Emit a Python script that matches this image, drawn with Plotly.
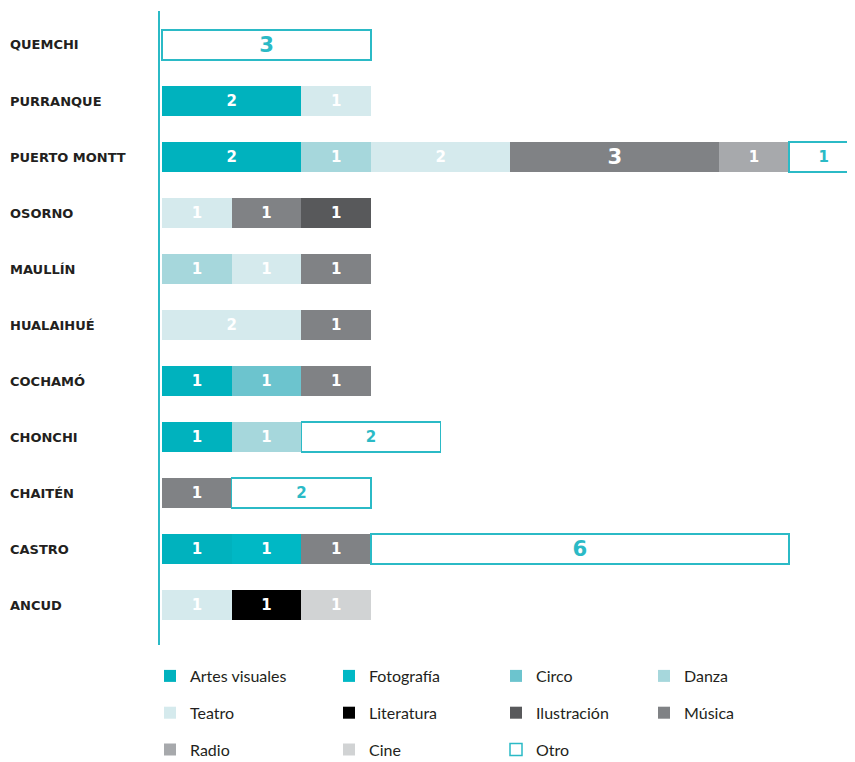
import plotly.graph_objects as go

municipios = ["QUEMCHI", "PURRANQUE", "PUERTO MONTT", "OSORNO", "MAULLÍN",
              "HUALAIHUÉ", "COCHAMÓ", "CHONCHI", "CHAITÉN", "CASTRO", "ANCUD"]

# values per discipline, aligned with municipios (None = no bar)
artes_visuales = [None, 2, 2, None, None, None, 1, 1, None, 1, None]
fotografia     = [None, None, None, None, None, None, None, None, None, 1, None]
circo          = [None, None, None, None, None, None, 1, None, None, None, None]
danza          = [None, None, 1, None, 1, None, None, 1, None, None, None]
teatro         = [None, 1, 2, 1, 1, 2, None, None, None, None, 1]
literatura     = [None, None, None, None, None, None, None, None, None, None, 1]
musica         = [None, None, 3, 1, 1, 1, 1, None, 1, 1, None]
ilustracion    = [None, None, None, 1, None, None, None, None, None, None, None]
radio          = [None, None, 1, None, None, None, None, None, None, None, None]
cine           = [None, None, None, None, None, None, None, None, None, None, 1]
otro           = [3, None, 1, None, None, None, None, 2, 2, 6, None]

TEAL_LINE = "#2BBAC6"

# (name, values, fill colour, text colour, legend column, legend rank)
series = [
    ("Artes visuales", artes_visuales, "#00B2BE", "white", "legend", 1),
    ("Fotografía", fotografia, "#00B8C5", "white", "legend2", 1),
    ("Circo", circo, "#6CC4CE", "white", "legend3", 1),
    ("Danza", danza, "#A6D7DC", "white", "legend4", 1),
    ("Teatro", teatro, "#D5EAED", "white", "legend", 2),
    ("Literatura", literatura, "#000000", "white", "legend2", 2),
    ("Música", musica, "#808285", "white", "legend4", 2),
    ("Ilustración", ilustracion, "#58595B", "white", "legend3", 2),
    ("Radio", radio, "#A7A9AC", "white", "legend", 3),
    ("Cine", cine, "#D1D3D4", "white", "legend2", 3),
    ("Otro", otro, "#FFFFFF", TEAL_LINE, "legend3", 3),
]

fig = go.Figure()
for name, vals, color, tcolor, leg, rank in series:
    is_otro = name == "Otro"
    sizes = [22 if (v is not None and v >= 3) else 15 for v in vals]
    fig.add_trace(go.Bar(
        name=name, y=municipios, x=vals, orientation="h",
        marker=dict(color=color,
                    line=dict(color=TEAL_LINE if is_otro else color,
                              width=1.5 if is_otro else 0)),
        texttemplate="%{x}",
        textposition="inside", insidetextanchor="middle", textangle=0,
        textfont=dict(family="DejaVu Sans", size=sizes, color=tcolor, weight="bold"),
        legend=leg, legendgroup=name, legendrank=rank, hoverinfo="skip",
    ))

# the page body adds an 8px offset at top/left; figure extends past the
# bottom of the window so the legends never push the plot margins
OFF = 8
W, H = 855 - OFF, 790
ml, mr, mt = 160 - OFF, 0, 11 - OFF
plot_bottom = 645 - OFF
mb = H - plot_bottom
pw, ph = W - ml - mr, H - mt - mb


def px_x(screen_px):
    return (screen_px - OFF - ml) / pw


def px_y(screen_px):
    return (H - mb - (screen_px - OFF)) / ph


annotations = []
for m in municipios:
    annotations.append(dict(
        x=px_x(OFF), xref="paper", xanchor="left",
        y=m, yref="y", yanchor="middle",
        text=m, showarrow=False,
        font=dict(family="DejaVu Sans", size=13, color="#231F20", weight="bold"),
    ))

leg_common = dict(orientation="v", xanchor="left", yanchor="top",
                  y=px_y(659), tracegroupgap=13,
                  font=dict(family="Lato", size=16, color="#231F20"),
                  bgcolor="rgba(0,0,0,0)", traceorder="grouped",
                  itemclick=False, itemdoubleclick=False)

col_swatch_centers = [170, 349, 516, 664]

fig.update_layout(
    width=W, height=H,
    margin=dict(l=ml, r=mr, t=mt, b=mb),
    barmode="stack", bargap=0.464,
    plot_bgcolor="white", paper_bgcolor="white",
    xaxis=dict(range=[-0.03, 9.95], visible=False, fixedrange=True),
    yaxis=dict(categoryorder="array", categoryarray=municipios,
               range=[10.714, -0.607], showticklabels=False, ticks="",
               showgrid=False, zeroline=False, showline=True,
               linecolor=TEAL_LINE, linewidth=1.5, fixedrange=True),
    legend=dict(x=px_x(col_swatch_centers[0] - 20), **leg_common),
    legend2=dict(x=px_x(col_swatch_centers[1] - 20), **leg_common),
    legend3=dict(x=px_x(col_swatch_centers[2] - 20), **leg_common),
    legend4=dict(x=px_x(col_swatch_centers[3] - 20), **leg_common),
    annotations=annotations,
    showlegend=True,
)

fig.write_html("out.html")
